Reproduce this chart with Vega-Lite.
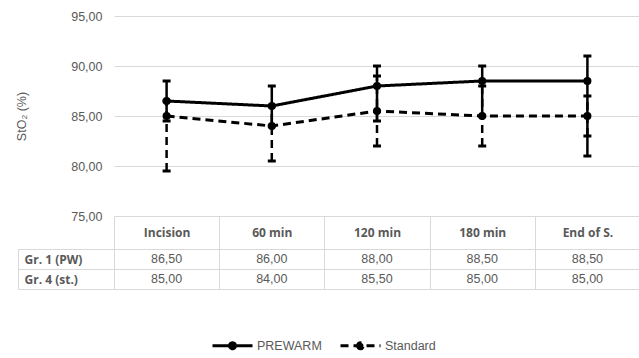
{
  "$schema": "https://vega.github.io/schema/vega-lite/v6.json",
  "padding": {"left": 15, "top": 10, "right": 0, "bottom": 0},
  "background": "white",
  "bounds": "flush",
  "spacing": 33,
  "config": {
    "view": {"stroke": null},
    "font": "Liberation Sans",
    "locale": {"number": {"decimal": ",", "thousands": ".", "grouping": [3], "currency": ["", " €"]}}
  },
  "datasets": {
    "d": [
      {"time": "Incision", "series": "PREWARM", "table": "Gr. 1 (PW)", "value": 86.5, "lo": 84.5, "hi": 88.5},
      {"time": "60 min", "series": "PREWARM", "table": "Gr. 1 (PW)", "value": 86.0, "lo": 84.0, "hi": 88.0},
      {"time": "120 min", "series": "PREWARM", "table": "Gr. 1 (PW)", "value": 88.0, "lo": 84.5, "hi": 90.0},
      {"time": "180 min", "series": "PREWARM", "table": "Gr. 1 (PW)", "value": 88.5, "lo": 85.0, "hi": 90.0},
      {"time": "End of S.", "series": "PREWARM", "table": "Gr. 1 (PW)", "value": 88.5, "lo": 81.0, "hi": 91.0},
      {"time": "Incision", "series": "Standard", "table": "Gr. 4 (st.)", "value": 85.0, "lo": 79.5, "hi": 86.5},
      {"time": "60 min", "series": "Standard", "table": "Gr. 4 (st.)", "value": 84.0, "lo": 80.5, "hi": 86.0},
      {"time": "120 min", "series": "Standard", "table": "Gr. 4 (st.)", "value": 85.5, "lo": 82.0, "hi": 89.0},
      {"time": "180 min", "series": "Standard", "table": "Gr. 4 (st.)", "value": 85.0, "lo": 82.0, "hi": 88.0},
      {"time": "End of S.", "series": "Standard", "table": "Gr. 4 (st.)", "value": 85.0, "lo": 83.0, "hi": 87.0}
    ]
  },
  "vconcat": [
    {
      "width": 526,
      "height": 200,
      "data": {"name": "d"},
      "encoding": {
        "x": {"field": "time", "type": "nominal", "sort": ["Incision", "60 min", "120 min", "180 min", "End of S."], "scale": {"paddingInner": 0, "paddingOuter": 0}, "axis": null}
      },
      "layer": [
        {
          "mark": {"type": "rule", "color": "#000", "strokeWidth": 2.5},
          "encoding": {
            "y": {"field": "lo", "type": "quantitative", "title": "StO₂ (%)", "scale": {"domain": [75, 95], "zero": false, "nice": false},
              "axis": {"values": [75, 80, 85, 90, 95], "format": ".2f", "domain": false, "ticks": false, "grid": true, "gridColor": "#d9d9d9", "labelColor": "#595959", "labelFont": "Liberation Sans", "labelFontSize": 12.5, "labelPadding": 12, "titleFont": "Liberation Sans", "titleFontSize": 12.5, "titleFontWeight": "normal", "titleColor": "#595959", "titlePadding": 42}},
            "y2": {"field": "hi"},
            "strokeDash": {"field": "series", "type": "nominal", "scale": {"domain": ["PREWARM", "Standard"], "range": [[1, 0], [8, 5]]},
              "legend": {"orient": "none", "legendX": 97, "legendY": 308, "direction": "horizontal", "title": null, "symbolType": "M-1,0H1M-0.15,0A0.15,0.15 0 1,0 0.15,0A0.15,0.15 0 1,0 -0.15,0Z", "symbolSize": 1600, "symbolStrokeWidth": 3, "symbolStrokeColor": "#000", "symbolFillColor": "#000", "labelFont": "Liberation Sans", "labelFontSize": 12.5, "labelColor": "#595959", "columnPadding": 12, "labelOffset": 3}}
          }
        },
        {
          "mark": {"type": "tick", "color": "#000", "thickness": 3, "size": 8, "opacity": 1},
          "encoding": {"y": {"field": "lo", "type": "quantitative", "title": "StO₂ (%)"}}
        },
        {
          "mark": {"type": "tick", "color": "#000", "thickness": 3, "size": 8, "opacity": 1},
          "encoding": {"y": {"field": "hi", "type": "quantitative", "title": "StO₂ (%)"}}
        },
        {
          "mark": {"type": "line", "color": "#000", "strokeWidth": 3},
          "encoding": {
            "y": {"field": "value", "type": "quantitative", "title": "StO₂ (%)"},
            "strokeDash": {"field": "series", "type": "nominal"}
          }
        },
        {
          "mark": {"type": "point", "filled": true, "color": "#000", "size": 65, "opacity": 1},
          "encoding": {
            "y": {"field": "value", "type": "quantitative", "title": "StO₂ (%)"},
            "detail": {"field": "series"}
          }
        }
      ]
    },
    {
      "width": 526,
      "height": 40,
      "data": {"name": "d"},
      "mark": {"type": "text", "font": "Liberation Sans", "fontSize": 12.5, "color": "#595959"},
      "encoding": {
        "x": {"field": "time", "type": "nominal", "sort": ["Incision", "60 min", "120 min", "180 min", "End of S."], "scale": {"paddingInner": 0, "paddingOuter": 0},
          "axis": {"orient": "top", "title": null, "labelAngle": 0, "labelFont": "Open Sans", "labelFontWeight": "bold", "labelFontSize": 12, "labelColor": "#595959", "labelBaseline": "middle", "labelPadding": -16.5, "tickBand": "extent", "tickSize": 33, "tickColor": "#d9d9d9", "domainColor": "#d9d9d9", "grid": true, "gridColor": "#d9d9d9"}},
        "y": {"field": "table", "type": "nominal", "sort": ["Gr. 1 (PW)", "Gr. 4 (st.)"], "scale": {"paddingInner": 0, "paddingOuter": 0},
          "axis": {"title": null, "offset": 96, "tickBand": "extent", "tickSize": -96, "tickColor": "#d9d9d9", "domainColor": "#d9d9d9", "grid": true, "gridColor": "#d9d9d9", "labelAlign": "left", "labelPadding": 90, "labelBaseline": "middle", "labelFont": "Open Sans", "labelFontWeight": "bold", "labelFontSize": 12, "labelColor": "#595959"}},
        "text": {"field": "value", "type": "quantitative", "format": ".2f"}
      }
    }
  ]
}
